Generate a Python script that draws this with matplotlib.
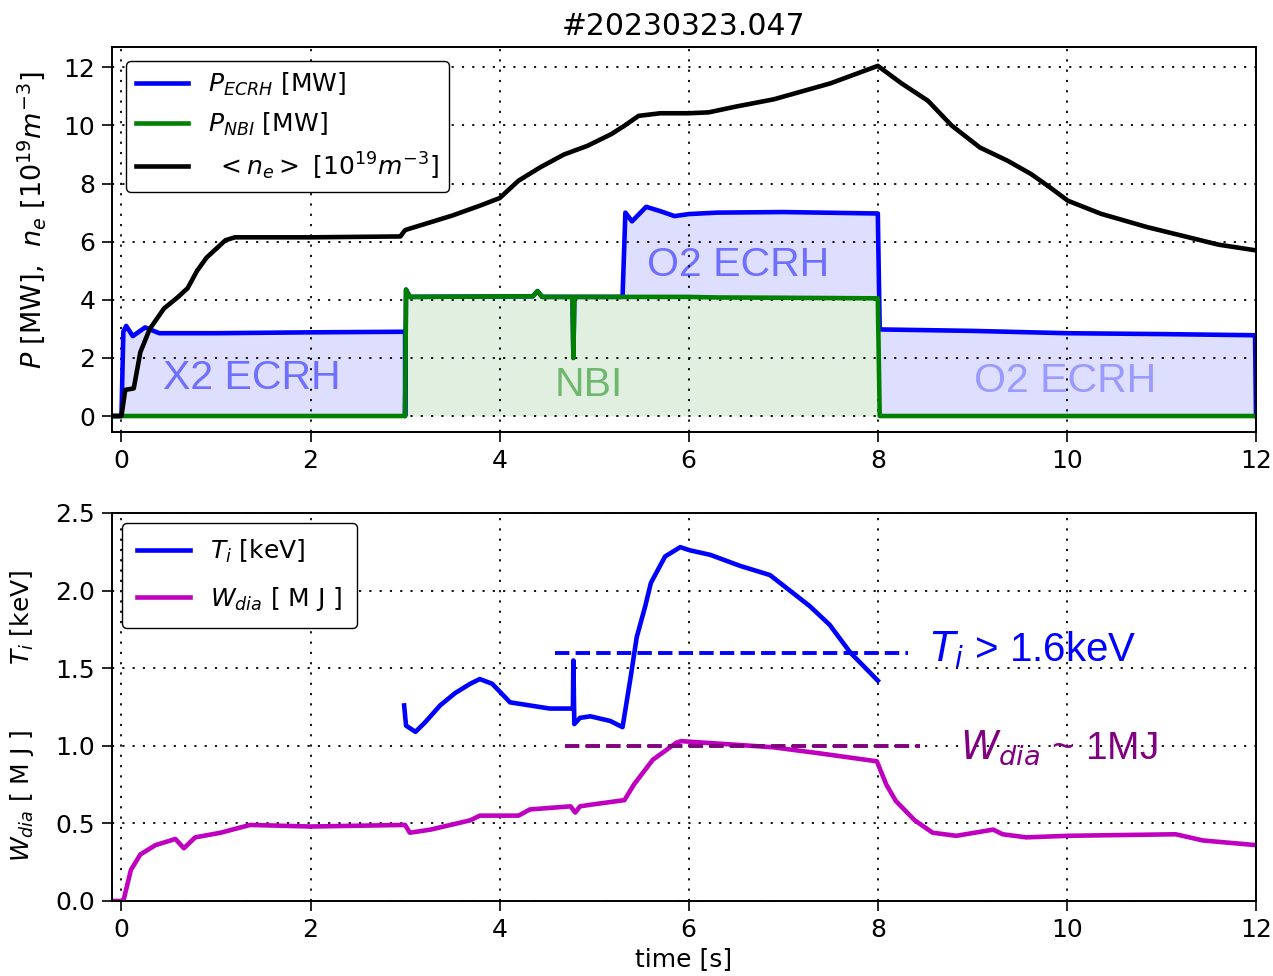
import numpy as np
import matplotlib.pyplot as plt

# heating power traces (shared time base), MW
t_pow = [-0.1, 0.0, 0.02, 0.05, 0.12, 0.25, 0.4, 1.0, 2.0, 3.0, 3.0, 3.01, 3.05,
         4.35, 4.4, 4.45, 4.77, 4.78, 4.79, 5.3, 5.33, 5.4, 5.55, 5.7, 5.85,
         6.0, 6.3, 7.0, 8.0, 8.02, 9.0, 10.0, 11.0, 11.99, 12.0]
p_ecrh = [0, 0, 2.9, 3.1, 2.75, 3.05, 2.85, 2.85, 2.88, 2.9, 0, 0, 0,
          0, 0, 0, 0, 0, 0, 0, 2.9, 2.6, 3.1, 2.95, 2.78,
          2.85, 2.92, 2.95, 2.92, 2.98, 2.93, 2.85, 2.82, 2.78, 0]
p_nbi = [0, 0, 0, 0, 0, 0, 0, 0, 0, 0, 0, 4.35, 4.1,
         4.12, 4.3, 4.1, 4.1, 2.0, 4.1, 4.1, 4.1, 4.1, 4.1, 4.1, 4.1,
         4.1, 4.08, 4.07, 4.05, 0, 0, 0, 0, 0, 0]

# line averaged density, 1e19 m^-3
t_ne = [-0.1, 0.0, 0.04, 0.13, 0.2, 0.3, 0.45, 0.6, 0.7, 0.8, 0.9, 1.0, 1.1, 1.2,
        2.0, 2.95, 3.0, 3.5, 3.8, 4.0, 4.2, 4.43, 4.68, 4.93, 5.18, 5.32, 5.47,
        5.7, 6.0, 6.21, 6.5, 6.9, 7.5, 8.0, 8.25, 8.53, 8.78, 9.08, 9.37, 9.62,
        9.82, 10.01, 10.36, 10.85, 11.35, 11.6, 12.0]
ne = [0, 0, 0.9, 0.95, 2.2, 3.0, 3.7, 4.1, 4.4, 5.0, 5.45, 5.75, 6.05, 6.15,
      6.15, 6.18, 6.4, 6.9, 7.25, 7.5, 8.1, 8.56, 9.0, 9.3, 9.7, 9.99, 10.33,
      10.42, 10.42, 10.45, 10.65, 10.9, 11.45, 12.05, 11.45, 10.85, 10.0, 9.24, 8.79, 8.33,
      7.87, 7.41, 6.96, 6.5, 6.1, 5.9, 5.7]

# ion temperature, keV
t_ti = [2.99, 3.01, 3.11, 3.21, 3.37, 3.53, 3.69, 3.79, 3.92, 4.0, 4.11, 4.32,
        4.53, 4.775, 4.78, 4.79, 4.85, 4.96, 5.17, 5.3, 5.385, 5.45, 5.54, 5.6,
        5.75, 5.91, 6.01, 6.23, 6.54, 6.86, 7.07, 7.28, 7.49, 7.71, 8.0]
ti = [1.26, 1.13, 1.09, 1.15, 1.26, 1.34, 1.40, 1.43, 1.40, 1.35, 1.28, 1.26,
      1.24, 1.24, 1.55, 1.14, 1.18, 1.19, 1.16, 1.12, 1.44, 1.7, 1.9, 2.05,
      2.22, 2.28, 2.26, 2.23, 2.16, 2.1, 2.0, 1.9, 1.78, 1.6, 1.42]

# diamagnetic energy, MJ
t_w = [-0.1, 0.0, 0.02, 0.1, 0.2, 0.36, 0.52, 0.57, 0.66, 0.78, 1.05, 1.36, 2.0,
       3.0, 3.05, 3.27, 3.69, 3.79, 4.2, 4.32, 4.75, 4.8, 4.85, 4.96, 5.32,
       5.42, 5.62, 5.87, 5.92, 6.66, 6.9, 7.4, 7.99, 8.09, 8.19, 8.39, 8.58,
       8.83, 9.22, 9.32, 9.57, 10.01, 11.15, 11.44, 12.0]
w_dia = [0, 0, 0.0, 0.2, 0.3, 0.36, 0.39, 0.4, 0.34, 0.41, 0.44, 0.49, 0.48,
         0.49, 0.44, 0.46, 0.52, 0.55, 0.55, 0.59, 0.61, 0.57, 0.61, 0.62, 0.65,
         0.75, 0.91, 1.02, 1.03, 1.0, 0.99, 0.95, 0.90, 0.75, 0.645, 0.52, 0.44,
         0.42, 0.46, 0.43, 0.41, 0.42, 0.43, 0.39, 0.36]

p_nbi_a = np.array(p_nbi)
p_tot = p_nbi_a + np.array(p_ecrh)

fs = 18
lw = 3.3
W, H = 1273, 976
fig = plt.figure(figsize=(W / 100, H / 100), dpi=100)
ax1 = fig.add_axes([112 / W, 1 - 432 / H, 1144 / W, 385 / H])
ax2 = fig.add_axes([112 / W, 1 - 901 / H, 1144 / W, 388 / H])

# top panel
ax1.fill_between(t_pow, p_nbi_a, p_tot, color='b', alpha=0.13, lw=0)
ax1.fill_between(t_pow, 0, p_nbi_a, color='g', alpha=0.12, lw=0)
ax1.plot(t_pow, p_tot, color='b', lw=lw, label=r'$P_{ECRH}$ [MW]')
ax1.plot(t_pow, p_nbi, color='g', lw=lw, label=r'$P_{NBI}$ [MW]')
ax1.plot(t_ne, ne, color='k', lw=lw, label=r' $<n_e>$ $[10^{19}m^{-3}]$')

afont = 'Liberation Sans'
ax1.text(1.38, 1.3, 'X2 ECRH', color='b', alpha=0.5, fontsize=29.5,
         family=afont, ha='center', va='center')
ax1.text(6.52, 5.2, 'O2 ECRH', color='b', alpha=0.5, fontsize=29.5,
         family=afont, ha='center', va='center')
ax1.text(4.94, 1.07, 'NBI', color='g', alpha=0.5, fontsize=29.5,
         family=afont, ha='center', va='center')
ax1.text(9.98, 1.2, 'O2 ECRH', color='b', alpha=0.3, fontsize=29.5,
         family=afont, ha='center', va='center')

ax1.set_xlim(-0.1, 12)
ax1.set_ylim(-0.55, 12.7)
ax1.set_xticks(range(0, 13, 2))
ax1.set_yticks(range(0, 13, 2))
ax1.set_title('#20230323.047', fontsize=21.5, pad=9)
ax1.set_ylabel(r'$P$ [MW],  $n_e$ $[10^{19}m^{-3}]$', fontsize=19.5)
ax1.yaxis.set_label_coords(-0.056, 0.55)
ax1.legend(loc='upper left', fontsize=fs, framealpha=1, edgecolor='k',
           borderaxespad=0.55, handlelength=2.1)

# bottom panel
ax2.plot(t_ti, ti, color='b', lw=lw, label=r'$T_i$ [keV]')
ax2.plot(t_w, w_dia, color='m', lw=lw, label=r'$W_{dia}$ [ M J ]')
ax2.hlines(1.6, 4.59, 8.32, colors='b', linestyles='--', lw=2.8)
ax2.hlines(1.0, 4.69, 8.45, colors='#800080', linestyles='--', lw=2.8)
ax2.text(8.55, 1.62, r'$T_i$ > 1.6keV', color='b', fontsize=29,
         family=afont, va='center')
ax2.text(8.87, 0.99, r'$W_{dia}$ ~ 1MJ', color='#800080', fontsize=28,
         family=afont, va='center')

ax2.set_xlim(-0.1, 12)
ax2.set_ylim(0, 2.5)
ax2.set_xticks(range(0, 13, 2))
ax2.set_yticks([0.0, 0.5, 1.0, 1.5, 2.0, 2.5])
ax2.set_xlabel('time [s]', fontsize=fs, labelpad=4)
ax2.text(-0.066, 0.73, r'$T_i$ [keV]', transform=ax2.transAxes, rotation=90,
         fontsize=fs, ha='right', va='center')
ax2.text(-0.066, 0.27, r'$W_{dia}$ [ M J ]', transform=ax2.transAxes,
         rotation=90, fontsize=fs, ha='right', va='center')
ax2.legend(loc='upper left', fontsize=fs, framealpha=1, edgecolor='k',
           borderaxespad=0.4, handlelength=2.1, labelspacing=0.8,
           borderpad=0.6)

for ax in (ax1, ax2):
    ax.grid(True, ls=(0, (1.2, 4.5)), color='k', lw=1.3)
    ax.tick_params(labelsize=fs, length=7, width=1.2, pad=5)
    for s in ax.spines.values():
        s.set_linewidth(1.4)

plt.savefig('out.png', dpi=100)
